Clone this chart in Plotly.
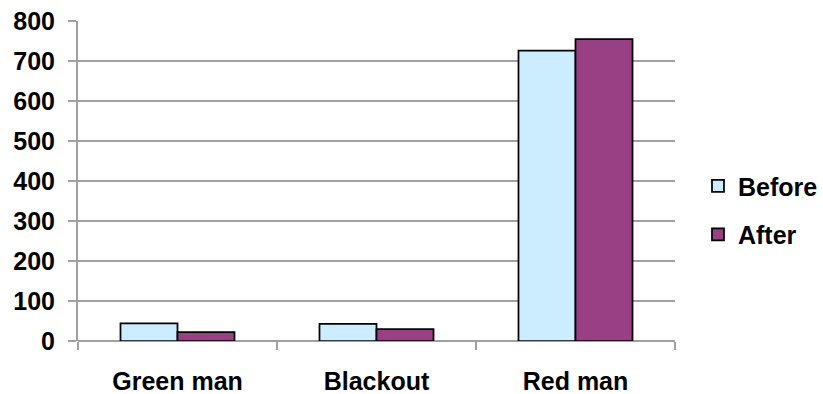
import plotly.graph_objects as go

# Categories and series values
categories = ["Green man", "Blackout", "Red man"]
before = [44, 43, 726]
after = [22, 30, 755]
y_ticks = [0, 100, 200, 300, 400, 500, 600, 700, 800]

GRID = "#A0A0A0"
FONT = dict(family="Liberation Sans, Arial, sans-serif", size=25, color="black", weight="bold")

fig = go.Figure()
fig.add_trace(go.Bar(
    x=categories, y=before, name="Before", legendgroup="b",
    marker=dict(color="#CCECFF", line=dict(color="black", width=1.75)),
))
fig.add_trace(go.Bar(
    x=categories, y=after, name="After", legendgroup="a",
    marker=dict(color="#993F84", line=dict(color="black", width=1.75)),
))

fig.update_layout(
    width=823, height=394,
    margin=dict(l=78, r=148, t=21, b=53, autoexpand=False),
    paper_bgcolor="white", plot_bgcolor="white",
    barmode="group", bargap=0.427, bargroupgap=0,
    font=FONT,
    showlegend=True,
    legend=dict(
        x=1.0385, y=0.409, xanchor="left", yanchor="middle",
        font=FONT, tracegroupgap=13, bgcolor="rgba(0,0,0,0)",
    ),
)

fig.update_xaxes(
    type="category", tickson="boundaries",
    ticks="outside", ticklen=8, tickcolor=GRID, tickwidth=2,
    showline=False, showgrid=False, zeroline=False,
    ticklabelstandoff=23,
)
fig.update_yaxes(
    range=[0, 800], tickvals=y_ticks,
    ticks="outside", ticklen=8, tickcolor=GRID, tickwidth=2,
    showgrid=True, gridcolor=GRID, gridwidth=1.5,
    showline=True, linecolor=GRID, linewidth=2,
    zeroline=True, zerolinecolor=GRID, zerolinewidth=2,
    ticklabelstandoff=8,
)

fig.write_html("out.html")
